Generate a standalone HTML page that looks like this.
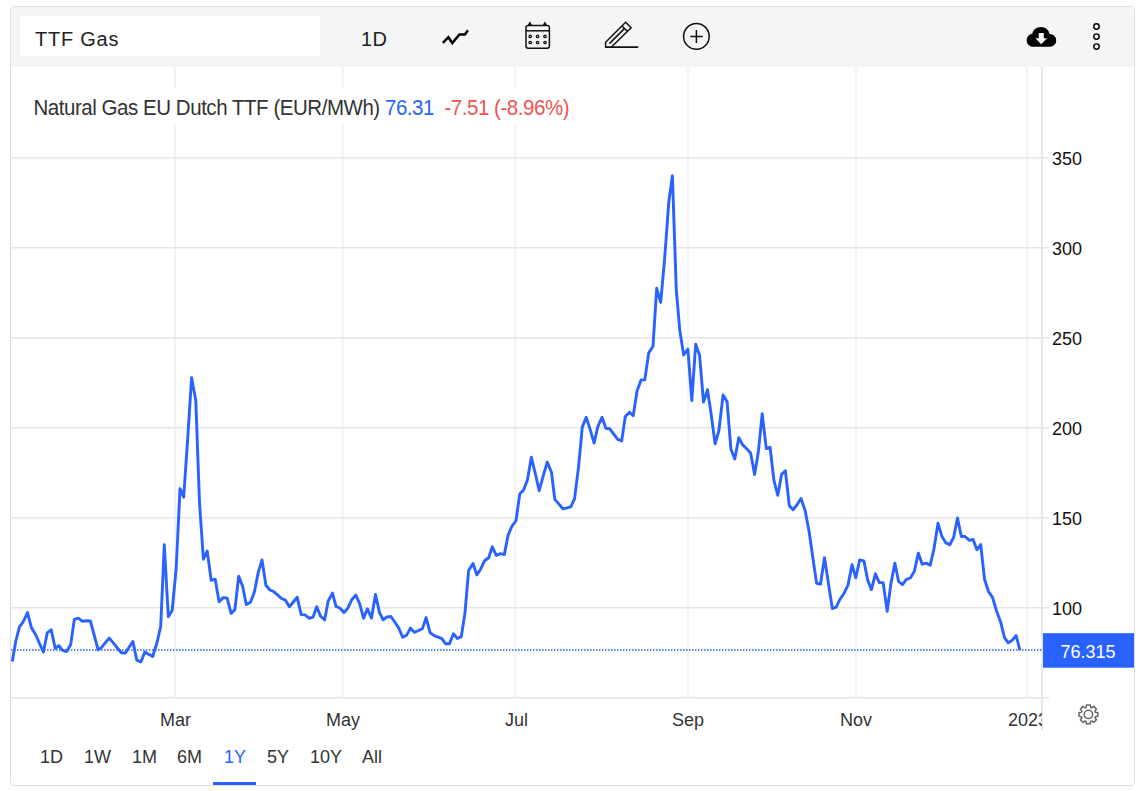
<!DOCTYPE html>
<html><head><meta charset="utf-8">
<style>
html,body{margin:0;padding:0;background:#fff;}
body{width:1142px;height:791px;position:relative;overflow:hidden;font-family:"Liberation Sans",sans-serif;}
#card{position:absolute;left:10px;top:6px;width:1123px;height:778px;border:1px solid #dedede;border-radius:4px;background:#fff;box-sizing:content-box;}
#bar{position:absolute;left:11px;top:7px;width:1123px;height:60px;background:#f5f5f5;border-radius:3px 3px 0 0;}
#inp{position:absolute;left:20px;top:16px;width:300px;height:40px;background:#fff;}
.t{position:absolute;white-space:nowrap;line-height:1;}
.y{left:1052px;font-size:18px;color:#111;}
.x{top:711px;font-size:18px;color:#333;}
.r{top:748px;font-size:18px;color:#333;}
svg{position:absolute;left:0;top:0;}
</style></head><body>
<div id="card"></div>
<div id="bar"></div>
<div id="inp"></div>
<div class="t" style="left:35px;top:29px;font-size:20px;letter-spacing:0.75px;transform:scaleY(1.05);transform-origin:0 86%;color:#222;">TTF Gas</div>
<div class="t" style="left:361px;top:28.5px;font-size:20px;letter-spacing:0.4px;transform:scaleY(1.05);transform-origin:0 86%;color:#222;">1D</div>
<svg width="1142" height="791" viewBox="0 0 1142 791">
  <!-- vertical grid -->
  <g stroke="#edf2f5" stroke-width="1.6">
    <line x1="175" y1="67" x2="175" y2="697"/>
    <line x1="342.9" y1="67" x2="342.9" y2="697"/>
    <line x1="515.3" y1="67" x2="515.3" y2="697"/>
    <line x1="688" y1="67" x2="688" y2="697"/>
    <line x1="856" y1="67" x2="856" y2="697"/>
    <line x1="1027" y1="67" x2="1027" y2="697"/>
  </g>
  <!-- horizontal grid -->
  <g stroke="#e6e6e6" stroke-width="1.5">
    <line x1="11" y1="157.7" x2="1049" y2="157.7"/>
    <line x1="11" y1="247.7" x2="1049" y2="247.7"/>
    <line x1="11" y1="337.7" x2="1049" y2="337.7"/>
    <line x1="11" y1="427.7" x2="1049" y2="427.7"/>
    <line x1="11" y1="517.7" x2="1049" y2="517.7"/>
    <line x1="11" y1="607.7" x2="1049" y2="607.7"/>
    <line x1="11" y1="697.7" x2="1049" y2="697.7"/>
  </g>
  <line x1="1042" y1="67" x2="1042" y2="730" stroke="#e3e3e3" stroke-width="1.6"/>
  <rect x="24" y="88" width="556" height="35" fill="#fff"/>
  <!-- dotted price line -->
  <line x1="11" y1="650" x2="1043" y2="650" stroke="#2962ff" stroke-width="1.5" stroke-dasharray="1.5 1.5"/>
  <path d="M12.3,661.5 L15.8,641.0 L19.5,626.8 L23.1,622.0 L27.5,612.6 L31.5,627.8 L35.7,634.7 L39.5,643.5 L43.4,652.0 L47.3,632.6 L51.2,629.9 L55.2,648.3 L58.9,645.7 L62.5,650.4 L66.7,651.5 L70.7,644.6 L74.3,619.4 L78.3,618.2 L82.5,621.3 L86.7,620.7 L90.4,621.0 L94.3,635.5 L98.1,649.9 L101.4,647.6 L105.3,642.8 L109.3,638.1 L113.5,643.1 L117.4,648.0 L121.4,652.8 L125.4,653.0 L129.2,647.0 L132.9,641.5 L136.8,660.1 L140.9,661.9 L144.8,652.1 L148.7,654.2 L152.7,656.5 L156.8,643.3 L160.7,626.5 L164.3,544.8 L168.3,616.7 L172.2,610.5 L176.2,568.0 L180.0,488.7 L183.7,497.2 L187.6,440.0 L191.6,377.6 L195.8,400.4 L199.5,502.8 L203.4,559.2 L207.2,551.0 L211.2,580.4 L215.2,579.2 L219.1,601.7 L223.2,597.6 L227.1,598.1 L231.1,613.4 L234.9,609.6 L238.7,576.2 L242.6,586.3 L246.3,604.6 L250.5,602.3 L254.4,592.0 L258.2,572.6 L262.0,560.0 L265.9,585.2 L269.7,589.7 L273.9,591.8 L277.8,595.2 L281.5,598.5 L285.5,600.2 L289.4,606.7 L293.3,602.0 L297.2,597.3 L301.2,614.6 L305.1,614.9 L309.3,618.3 L313.0,617.2 L316.7,606.7 L320.6,616.2 L324.6,619.9 L328.2,601.0 L332.4,593.1 L336.1,606.5 L339.8,608.0 L344.0,612.5 L347.8,608.2 L351.8,599.7 L355.8,595.0 L359.7,603.9 L363.6,618.3 L367.4,608.8 L371.5,618.1 L375.5,594.4 L379.4,612.3 L383.0,619.7 L387.0,617.0 L390.9,616.5 L394.9,622.3 L398.8,628.1 L402.6,637.2 L406.7,635.1 L410.4,628.1 L414.3,632.3 L418.6,630.5 L422.4,628.6 L426.1,617.6 L430.1,632.6 L434.1,635.7 L438.0,637.2 L441.9,638.6 L445.7,643.8 L449.5,643.8 L453.4,633.8 L457.4,638.5 L461.3,636.6 L465.0,612.8 L468.6,570.5 L473.0,563.5 L476.8,574.9 L480.6,569.2 L484.6,560.7 L488.7,557.8 L492.3,546.8 L496.3,555.4 L500.5,553.7 L504.3,554.6 L508.1,535.1 L511.8,526.5 L516.0,520.6 L519.8,493.7 L523.6,490.1 L527.5,479.7 L531.3,457.2 L535.4,474.0 L539.2,490.7 L543.1,476.4 L547.2,462.1 L551.5,472.3 L554.8,499.4 L558.8,503.9 L562.9,508.8 L566.9,507.8 L570.8,506.8 L574.5,498.9 L578.5,467.4 L582.3,427.1 L586.2,417.3 L590.2,429.6 L594.1,443.1 L597.9,426.3 L602.0,417.3 L605.9,428.3 L609.7,428.8 L613.7,434.0 L617.7,439.4 L621.7,440.8 L625.3,416.5 L629.5,412.2 L633.2,415.8 L637.1,390.7 L641.1,379.9 L644.8,379.9 L648.7,353.1 L653.0,346.2 L656.7,288.3 L660.7,302.4 L664.6,259.0 L668.8,202.0 L672.4,175.7 L676.3,290.0 L679.8,330.5 L683.7,355.0 L687.9,349.1 L691.8,400.6 L695.7,344.1 L699.6,355.4 L703.5,402.1 L707.5,389.7 L711.3,415.3 L715.1,443.8 L718.9,430.5 L723.1,394.9 L727.1,401.7 L730.9,449.1 L734.8,459.0 L738.8,437.7 L742.6,444.7 L746.6,448.8 L750.6,452.9 L754.6,474.5 L758.4,451.4 L762.2,413.8 L766.3,448.6 L770.1,447.3 L773.9,480.4 L777.8,495.3 L781.6,474.4 L785.4,470.8 L789.3,505.7 L793.1,509.8 L797.2,504.5 L801.0,498.5 L805.1,510.5 L809.0,530.9 L812.8,557.3 L816.6,583.3 L820.5,584.2 L824.5,557.6 L828.5,583.9 L832.3,608.5 L836.2,607.2 L840.1,599.0 L844.1,593.2 L848.0,585.1 L852.0,564.7 L855.8,577.8 L859.7,560.0 L863.9,560.8 L867.6,579.9 L871.4,589.6 L875.4,573.8 L879.3,582.6 L883.1,582.6 L887.2,611.2 L891.0,583.1 L894.9,563.1 L898.6,581.5 L902.5,584.7 L906.4,579.4 L910.3,578.0 L914.3,571.5 L918.3,553.1 L922.2,564.2 L926.1,563.1 L930.2,565.3 L934.0,548.7 L938.0,523.3 L941.8,536.2 L945.6,542.6 L949.8,544.7 L953.6,537.5 L957.5,518.0 L961.3,536.5 L965.1,536.5 L969.3,540.3 L973.1,539.4 L976.9,549.8 L980.7,544.5 L984.5,579.2 L988.5,591.5 L992.6,597.6 L996.4,610.5 L1000.6,621.9 L1004.4,637.4 L1008.2,642.8 L1012.0,640.5 L1016.1,635.5 L1019.9,650.0" fill="none" stroke="#2962ff" stroke-width="2.9" stroke-linejoin="round" stroke-linecap="butt"/>
  <rect x="1043" y="633.2" width="91" height="34.5" fill="#2962ff"/>

  <!-- icons -->
  <path d="M442.9,42.9 L448.4,37.2 L452.3,43.1 L459.4,34.5 L464.9,34.5 L468,30.2" fill="none" stroke="#000" stroke-width="2.5" stroke-linejoin="miter"/>
  <!-- calendar -->
  <g fill="none" stroke="#111" stroke-width="1.5">
    <rect x="526" y="25.6" width="23.4" height="22.6" rx="2.2"/>
    <line x1="526" y1="30.8" x2="549.4" y2="30.8"/>
    <path d="M528.6,25.6 L529.9,22.8 L531.2,25.6 M543.6,25.6 L544.9,22.8 L546.2,25.6" stroke-width="1.8" stroke-linejoin="round"/>
    <g stroke-width="1.3">
    <circle cx="530.2" cy="36.4" r="1.2"/><circle cx="537.6" cy="36.4" r="1.2"/><circle cx="545" cy="36.4" r="1.2"/>
    <circle cx="530.2" cy="42.5" r="1.2"/><circle cx="537.6" cy="42.5" r="1.2"/><circle cx="545" cy="42.5" r="1.2"/>
    </g>
  </g>
  <!-- pencil -->
  <g fill="none" stroke="#111" stroke-width="1.5" stroke-linejoin="miter">
    <path d="M605.6,47.2 L605.6,42.3 L625.6,22.3 L631.1,27.8 L611.2,47.2"/>
    <path d="M605,47.2 L638.2,47.2" stroke-width="1.8"/>
    <path d="M622,26 L627.4,31.4"/>
    <path d="M609.4,43.6 L624.4,28.6"/>
  </g>
  <!-- plus circle -->
  <g fill="none" stroke="#111" stroke-width="1.5">
    <circle cx="696.4" cy="36.4" r="12.8"/>
    <path d="M690.2,36.4 L702.8,36.4 M696.4,30.1 L696.4,42.9" stroke-width="1.5"/>
  </g>
  <!-- cloud -->
  <g>
    <path d="M1032.6,46.8 A6.6,6.6 0 0 1 1032.2,33.7 A9,9 0 0 1 1049.6,33.9 A6.4,6.4 0 0 1 1050,46.8 Z" fill="#000"/>
    <path d="M1038.7,33 L1043.8,33 L1043.8,38.3 L1047,38.3 L1041.2,44.2 L1035.4,38.3 L1038.7,38.3 Z" fill="#f5f5f5"/>
  </g>
  <!-- dots -->
  <g fill="none" stroke="#000" stroke-width="1.45">
    <circle cx="1096.5" cy="26.5" r="2.7"/><circle cx="1096.5" cy="36.6" r="2.7"/><circle cx="1096.5" cy="46.6" r="2.7"/>
  </g>
  <!-- gear -->
  <g fill="none" stroke="#666" stroke-width="1.5" stroke-linejoin="round">
    <path d="M1086.14,707.46 L1086.45,705.00 L1090.35,705.00 L1090.66,707.46 L1091.71,707.90 L1093.67,706.38 L1096.42,709.13 L1094.90,711.09 L1095.34,712.14 L1097.80,712.45 L1097.80,716.35 L1095.34,716.66 L1094.90,717.71 L1096.42,719.67 L1093.67,722.42 L1091.71,720.90 L1090.66,721.34 L1090.35,723.80 L1086.45,723.80 L1086.14,721.34 L1085.09,720.90 L1083.13,722.42 L1080.38,719.67 L1081.90,717.71 L1081.46,716.66 L1079.00,716.35 L1079.00,712.45 L1081.46,712.14 L1081.90,711.09 L1080.38,709.13 L1083.13,706.38 L1085.09,707.90 Z"/>
    <circle cx="1088.4" cy="714.4" r="4.2"/>
  </g>
</svg>
<div class="t" style="left:33.5px;top:97.5px;font-size:20.5px;letter-spacing:-0.46px;transform:scaleY(1.05);transform-origin:0 86%;color:#333;">Natural Gas EU Dutch TTF (EUR/MWh) <span style="color:#2962ff">76.31</span>&nbsp; <span style="color:#ef5350">-7.51 (-8.96%)</span></div>
<!-- y labels -->
<div class="t y" style="top:150px;">350</div>
<div class="t y" style="top:240px;">300</div>
<div class="t y" style="top:330px;">250</div>
<div class="t y" style="top:420px;">200</div>
<div class="t y" style="top:510px;">150</div>
<div class="t y" style="top:600px;">100</div>
<div class="t" style="left:1060.5px;top:642.5px;font-size:18px;color:#fff;">76.315</div>
<!-- x labels -->
<div class="t x" style="left:160px;">Mar</div>
<div class="t x" style="left:326px;">May</div>
<div class="t x" style="left:505px;">Jul</div>
<div class="t x" style="left:672px;">Sep</div>
<div class="t x" style="left:840px;">Nov</div>
<div class="t x" style="left:1008px;width:34px;overflow:hidden;">2023</div>
<!-- ranges -->
<div class="t r" style="left:40px;">1D</div>
<div class="t r" style="left:84px;">1W</div>
<div class="t r" style="left:132px;">1M</div>
<div class="t r" style="left:177px;">6M</div>
<div class="t r" style="left:224px;color:#2962ff;">1Y</div>
<div class="t r" style="left:267px;">5Y</div>
<div class="t r" style="left:310px;">10Y</div>
<div class="t r" style="left:362px;">All</div>
<div style="position:absolute;left:213px;top:782px;width:43px;height:3px;background:#2962ff;"></div>
</body></html>
